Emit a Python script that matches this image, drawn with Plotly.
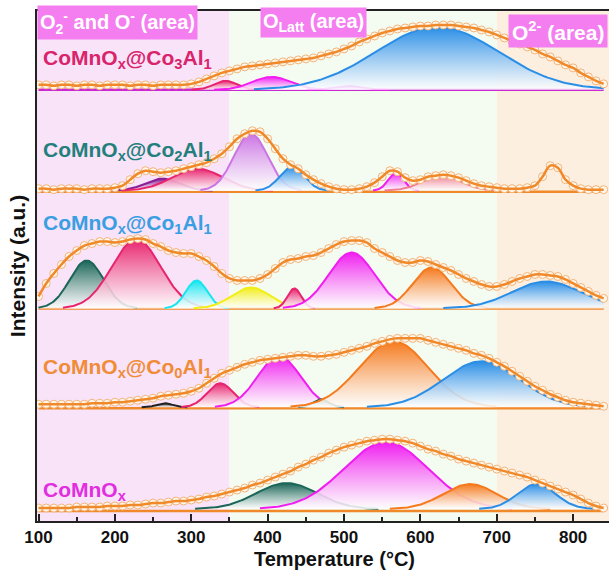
import numpy as np
import plotly.graph_objects as go

# ---------------- data ----------------
temps = list(range(100, 841, 10))

# experimental TPD signal (height above each panel baseline, a.u.)
exp_co3 = [5, 5, 4, 5, 5, 4, 5, 5, 4, 5, 5, 5, 4, 5, 5, 4, 5, 5, 5, 5, 6,
           8, 11, 14, 17, 19, 21, 23, 24, 25, 26,
           27, 28, 29, 30, 31, 32, 34, 36, 38, 41,
           44, 48, 51, 54, 57, 59, 61, 62, 63, 64,
           64, 65, 65, 65, 64, 63, 62, 60, 58, 55,
           52, 49, 46, 43, 40, 36, 33, 29, 25, 22,
           17, 13, 9, 6]
exp_co2 = [3, 3, 2, 3, 3, 3, 2, 3, 3, 3, 4,
           6, 12, 18, 21, 20, 19, 20, 21, 23, 25,
           27, 29, 33, 38, 45, 53, 58, 61, 60, 53,
           43, 33, 27, 23, 17, 12, 8, 5, 3, 2,
           2, 3, 5, 9, 15, 21, 20, 14, 11, 12,
           15, 16, 17, 16, 14, 11, 8, 6, 5, 4,
           3, 3, 3, 4, 6, 15, 26, 24, 12, 6,
           3, 2, 2, 2]
exp_co1 = [12, 25, 35, 44, 52, 58, 63, 65, 67, 67, 66,
           67, 69, 70, 69, 65, 62, 58, 56, 55, 55,
           52, 48, 42, 35, 30, 28, 28, 28, 30, 34,
           40, 46, 49, 50, 52, 53, 56, 60, 64, 67,
           68, 68, 66, 60, 56, 52, 48, 46, 46, 48,
           47, 44, 41, 38, 34, 30, 27, 24, 22, 22,
           24, 27, 30, 32, 34, 34, 33, 32, 29, 25,
           21, 17, 13, 10]
exp_co0 = [4, 4, 4, 4, 4, 4, 4, 5, 5, 5, 6,
           6, 7, 8, 9, 10, 12, 13, 14, 15, 17,
           20, 25, 30, 35, 38, 41, 44, 46, 48, 49,
           50, 51, 52, 53, 53, 52, 52, 53, 54, 56,
           58, 60, 62, 65, 67, 69, 70, 70, 70, 70,
           68, 66, 64, 62, 60, 58, 55, 53, 50, 46,
           42, 37, 32, 27, 22, 18, 14, 11, 8, 6,
           5, 4, 3, 2]
exp_mn = [3, 3, 3, 3, 3, 4, 4, 4, 4, 5, 5,
          5, 6, 6, 7, 8, 8, 9, 10, 10, 11,
          12, 14, 15, 17, 19, 21, 23, 26, 28, 31,
          34, 37, 40, 44, 47, 51, 54, 58, 61, 64,
          66, 68, 70, 71, 72, 72, 71, 70, 68, 65,
          62, 60, 57, 55, 52, 50, 48, 46, 44, 42,
          40, 38, 36, 34, 31, 28, 25, 22, 19, 16,
          12, 8, 5, 3]

# fitted Gaussian components: centre (°C), height, width (sigma, °C)
co3_centers = [345, 405, 505, 622]
co3_heights = [9, 13, 4, 63]
co3_sigmas = [15, 25, 18, 80]

co2_centers = [262, 308, 378, 432, 568, 628]
co2_heights = [12, 22, 57, 24, 18, 15]
co2_sigmas = [22, 33, 22, 16, 10, 25]

co1_centers = [163, 228, 307, 378, 435, 510, 615, 765]
co1_heights = [48, 69, 28, 21, 20, 56, 41, 27]
co1_sigmas = [22, 32, 14, 25, 9, 30, 25, 45]

co0_centers = [265, 338, 415, 470, 565, 680]
co0_heights = [4, 24, 51, 8, 66, 46]
co0_sigmas = [10, 17, 28, 10, 45, 50]

mn_centers = [425, 555, 665, 752]
mn_heights = [26, 67, 25, 25]
mn_sigmas = [40, 55, 35, 25]

sample_names = ["CoMnO<sub>x</sub>@Co<sub>3</sub>Al<sub>1</sub>",
                "CoMnO<sub>x</sub>@Co<sub>2</sub>Al<sub>1</sub>",
                "CoMnO<sub>x</sub>@Co<sub>1</sub>Al<sub>1</sub>",
                "CoMnO<sub>x</sub>@Co<sub>0</sub>Al<sub>1</sub>",
                "CoMnO<sub>x</sub>"]
region_names = ["O<sub>2</sub><sup>-</sup> and O<sup>-</sup> (area)",
                "O<sub>Latt</sub> (area)",
                "O<sup>2-</sup> (area)"]
x_ticks = [100, 200, 300, 400, 500, 600, 700, 800]
x_minor = [150, 250, 350, 450, 550, 650, 750]

# ---------------- styles ----------------
CRIMSON = "#e8246e"
MAGENTA = "#f01ef0"
BLUE = "#2a8ee6"
ORANGE = "#f57a1e"
TEAL = "#1b6658"
CYAN = "#14e6f0"
YELLOW = "#f2ee18"
LAVENDER = "#cc74e4"
SALMON = "#ef7e92"
PURPLE = "#8a1e96"
DARK = "#222222"
ENV = "#f0892a"

panels = [
    dict(exp=exp_co3, c=co3_centers, h=co3_heights, s=co3_sigmas, off=432, cbase=432,
         colors=[CRIMSON, MAGENTA, MAGENTA, BLUE], base_color="#c82ad0",
         label_color="#d9246c", label_y=463),
    dict(exp=exp_co2, c=co2_centers, h=co2_heights, s=co2_sigmas, off=330, cbase=331,
         colors=[PURPLE, CRIMSON, LAVENDER, BLUE, MAGENTA, SALMON], base_color=ENV,
         label_color="#237f7c", label_y=371),
    dict(exp=exp_co1, c=co1_centers, h=co1_heights, s=co1_sigmas, off=213, cbase=213,
         colors=[TEAL, CRIMSON, CYAN, YELLOW, CRIMSON, MAGENTA, ORANGE, BLUE], base_color=ENV,
         label_color="#3a9ee2", label_y=298),
    dict(exp=exp_co0, c=co0_centers, h=co0_heights, s=co0_sigmas, off=113, cbase=114,
         colors=[DARK, CRIMSON, MAGENTA, TEAL, ORANGE, BLUE], base_color=ENV,
         label_color="#f08c38", label_y=153),
    dict(exp=exp_mn, c=mn_centers, h=mn_heights, s=mn_sigmas, off=10, cbase=12,
         colors=[TEAL, MAGENTA, ORANGE, BLUE], base_color=ENV,
         label_color="#e02ee0", label_y=30),
]

fig = go.Figure()

# background regions
for x0, x1, col in [(90, 350, "#f8e3f8"), (350, 700, "#f4fbf0"), (700, 860, "#fcefdf")]:
    fig.add_shape(type="rect", xref="x", yref="paper", x0=x0, x1=x1, y0=0, y1=1,
                  fillcolor=col, line_width=0, layer="below")

for p in panels:
    # baseline
    fig.add_trace(go.Scatter(x=[temps[0], temps[-1]], y=[p["off"], p["off"]], mode="lines",
                             line=dict(color=p["base_color"], width=2.5), hoverinfo="skip"))
    # components
    for c, h, s, col in zip(p["c"], p["h"], p["s"], p["colors"]):
        lo = max(temps[0], c - 3 * s)
        hi = min(temps[-1], c + 3 * s)
        t = np.linspace(lo, hi, 120)
        g = h * np.exp(-((t - c) ** 2) / (2 * s ** 2))
        fig.add_trace(go.Scatter(x=t, y=np.full_like(t, p["cbase"]), mode="lines",
                                 line=dict(width=0), hoverinfo="skip"))
        fig.add_trace(go.Scatter(x=t, y=p["cbase"] + g, mode="lines", fill="tonexty",
                                 line=dict(color=col, width=2),
                                 fillgradient=dict(type="vertical",
                                                   colorscale=[[0, "rgba(255,255,255,0.85)"],
                                                               [1, col]]),
                                 hoverinfo="skip"))
    y_exp = [p["off"] + v for v in p["exp"]]
    fig.add_trace(go.Scatter(x=temps, y=y_exp, mode="markers",
                             marker=dict(symbol="circle", size=8, color="#fff6ea",
                                         line=dict(color="#f2b47a", width=1)),
                             hoverinfo="skip"))
    fig.add_trace(go.Scatter(x=temps, y=y_exp, mode="lines", line_shape="spline",
                             line=dict(color=ENV, width=2.5), hoverinfo="skip"))

for name, p in zip(sample_names, panels):
    fig.add_annotation(x=103, y=p["label_y"], xref="x", yref="y", text="<b>" + name + "</b>",
                       showarrow=False, xanchor="left", yanchor="middle",
                       font=dict(family="Arial", size=21, color=p["label_color"]))

BOX = "#f47ef0"
for name, xa, ya, fs in zip(region_names, [98, 390, 846], [499, 499, 491], [20, 20, 21]):
    fig.add_annotation(x=xa, y=ya, xref="x", yref="y", text="<b>" + name + "</b>",
                       showarrow=False, xanchor="left" if xa < 800 else "right",
                       yanchor="middle", bgcolor=BOX, borderpad=3 if fs > 20 else 2,
                       font=dict(family="Arial", size=fs, color="white"))

# x-axis title placed as annotation so it can sit close to the tick labels
fig.add_annotation(x=0.52, y=-0.0745, xref="paper", yref="paper",
                   text="<b>Temperature (°C)</b>", showarrow=False,
                   xanchor="center", yanchor="middle",
                   font=dict(family="Arial", size=20, color="#111"))

fig.update_layout(
    width=609, height=574,
    margin=dict(l=37, r=0, t=11, b=53),
    plot_bgcolor="white", paper_bgcolor="white",
    showlegend=False,
    xaxis=dict(range=[98, 847], tickvals=x_ticks, ticktext=["<b>%d</b>" % v for v in x_ticks],
               ticks="inside", ticklen=7, tickwidth=2,
               tickcolor="#222", showline=True, linecolor="#222", linewidth=2, mirror=True,
               showgrid=False, zeroline=False,
               tickfont=dict(family="Arial", size=17, color="#111"),
               minor=dict(tickvals=x_minor, ticks="inside",
                          ticklen=4, tickwidth=2, tickcolor="#222")),
    yaxis=dict(range=[0, 511], showticklabels=False, ticks="", showgrid=False, zeroline=False,
               showline=True, linecolor="#222", linewidth=2,
               title=dict(text="<b>Intensity (a.u.)</b>", standoff=4,
                          font=dict(family="Arial", size=21, color="#111"))),
)

fig.write_html("out.html")
